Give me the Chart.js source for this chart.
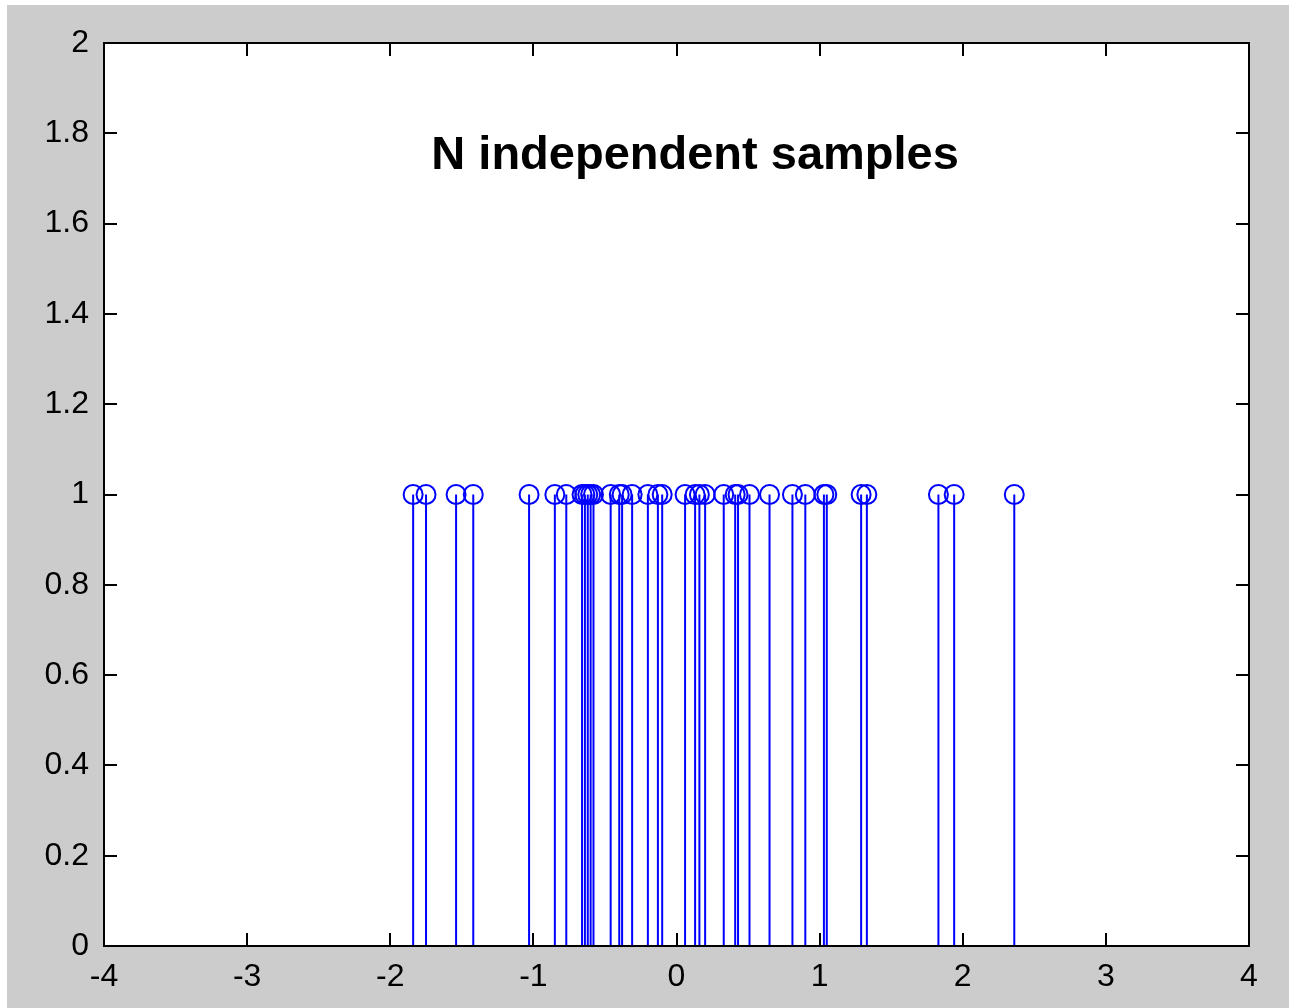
<!DOCTYPE html>
<html>
<head>
<meta charset="utf-8">
<script src="https://cdn.jsdelivr.net/npm/chart.js@4/dist/chart.umd.min.js"></script>
<style>
  html, body { margin: 0; padding: 0; background: #fff; }
  #frame { position: absolute; left: 7px; top: 5px; width: 1282px; height: 1003px; background: #cccccc; }
</style>
</head>
<body>
<div id="frame"><canvas id="chart" width="1282" height="1003"></canvas></div>
<script>
// sample locations, every stem has height 1
const samples = [
  -1.84, -1.75, -1.54, -1.42, -1.03, -0.85, -0.77, -0.66, -0.64, -0.62,
  -0.60, -0.58, -0.46, -0.40, -0.38, -0.31, -0.20, -0.13, -0.10, 0.06,
  0.13, 0.16, 0.20, 0.33, 0.41, 0.43, 0.51, 0.65, 0.81, 0.90,
  1.03, 1.05, 1.29, 1.33, 1.83, 1.94, 2.36
];
const stemHeight = 1;
const xTicks = [-4, -3, -2, -1, 0, 1, 2, 3, 4];
const yTicks = [0, 0.2, 0.4, 0.6, 0.8, 1, 1.2, 1.4, 1.6, 1.8, 2];
const title = "N independent samples";

const BLUE = "#0000ff";
const FONT = "'Liberation Sans', Arial, sans-serif";

// stem lines: 0 -> value, broken by a null gap
const stemData = [];
samples.forEach(x => {
  stemData.push({ x: x, y: 0 });
  stemData.push({ x: x, y: stemHeight });
  stemData.push({ x: x, y: null });
});
const headData = samples.map(x => ({ x: x, y: stemHeight }));

// white plot box, black frame, inward ticks on all four sides, text label
const boxPlugin = {
  id: "box",
  beforeDraw(chart) {
    const a = chart.chartArea, ctx = chart.ctx;
    ctx.save();
    ctx.fillStyle = "#fff";
    ctx.fillRect(a.left, a.top, a.right - a.left, a.bottom - a.top);
    ctx.restore();
  },
  afterDraw(chart) {
    const a = chart.chartArea, ctx = chart.ctx;
    const sx = chart.scales.x, sy = chart.scales.y;
    const len = 13;
    ctx.save();
    ctx.strokeStyle = "#000";
    ctx.lineWidth = 2;
    ctx.beginPath();
    xTicks.forEach(v => {
      const px = Math.round(sx.getPixelForValue(v));
      ctx.moveTo(px, a.bottom); ctx.lineTo(px, a.bottom - len);
      ctx.moveTo(px, a.top); ctx.lineTo(px, a.top + len);
    });
    yTicks.forEach(v => {
      const py = Math.round(sy.getPixelForValue(v));
      ctx.moveTo(a.left, py); ctx.lineTo(a.left + len, py);
      ctx.moveTo(a.right, py); ctx.lineTo(a.right - len, py);
    });
    ctx.stroke();
    ctx.strokeRect(a.left, a.top, a.right - a.left, a.bottom - a.top);

    ctx.fillStyle = "#000";
    ctx.font = "bold 47px " + FONT;
    ctx.textAlign = "center";
    ctx.textBaseline = "middle";
    ctx.fillText(title, sx.getPixelForValue(0.13), sy.getPixelForValue(1.75));
    ctx.restore();
  }
};

new Chart(document.getElementById("chart"), {
  type: "scatter",
  data: {
    datasets: [
      {
        label: "stems",
        data: stemData,
        showLine: true,
        spanGaps: false,
        borderColor: BLUE,
        borderWidth: 2,
        pointRadius: 0
      },
      {
        label: "heads",
        data: headData,
        pointStyle: "circle",
        pointRadius: 9.5,
        pointBorderWidth: 2,
        borderColor: BLUE,
        backgroundColor: "rgba(0,0,0,0)"
      }
    ]
  },
  options: {
    responsive: false,
    animation: false,
    events: [],
    layout: { padding: { top: 38, right: 40, left: 0, bottom: 0 } },
    plugins: {
      legend: { display: false },
      tooltip: { enabled: false }
    },
    scales: {
      x: {
        type: "linear",
        min: -4,
        max: 4,
        afterBuildTicks: s => { s.ticks = xTicks.map(v => ({ value: v })); },
        afterFit: s => { s.height = 62; },
        grid: { display: false, drawTicks: false },
        border: { display: false },
        ticks: {
          padding: 12,
          color: "#000",
          font: { family: FONT, size: 32 },
          maxRotation: 0,
          callback: v => String(v)
        }
      },
      y: {
        type: "linear",
        min: 0,
        max: 2,
        afterBuildTicks: s => { s.ticks = yTicks.map(v => ({ value: v })); },
        afterFit: s => { s.width = 97; },
        grid: { display: false, drawTicks: false },
        border: { display: false },
        ticks: {
          padding: 15,
          color: "#000",
          font: { family: FONT, size: 32 },
          callback: v => String(Number(v.toFixed(1)))
        }
      }
    }
  },
  plugins: [boxPlugin]
});
</script>
</body>
</html>
